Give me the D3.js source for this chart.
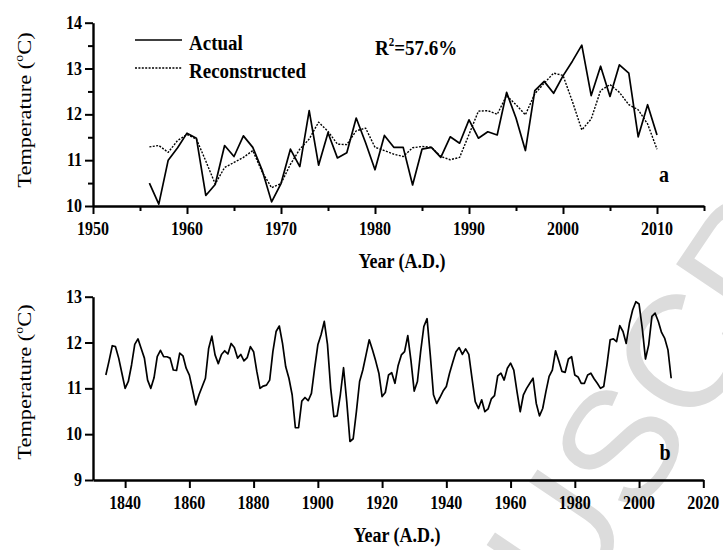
<!DOCTYPE html>
<html>
<head>
<meta charset="utf-8">
<script src="https://cdn.jsdelivr.net/npm/d3@7"></script>
<style>
  body { margin: 0; background: #fff; }
  svg { display: block; }
</style>
</head>
<body>
<svg id="chart" width="723" height="550"></svg>
<script>
// panel a: actual vs reconstructed, one value per year from 1956
const actualStart = 1956;
const actual = [10.50, 10.04, 11.00, 11.27, 11.59, 11.48, 10.23, 10.47, 11.32, 11.08,
  11.53, 11.28, 10.78, 10.09, 10.49, 11.24, 10.86, 12.08, 10.89, 11.60,
  11.05, 11.16, 11.92, 11.38, 10.79, 11.54, 11.28, 11.28, 10.46, 11.24,
  11.28, 11.06, 11.51, 11.37, 11.88, 11.48, 11.62, 11.55, 12.48, 11.92,
  11.21, 12.52, 12.72, 12.46, 12.84, 13.16, 13.51, 12.41, 13.05, 12.39,
  13.08, 12.90, 11.51, 12.21, 11.55];
const reconstructed = [11.29, 11.32, 11.17, 11.43, 11.56, 11.46, 10.98, 10.48, 10.84, 10.95,
  11.06, 11.21, 10.74, 10.40, 10.49, 10.91, 11.24, 11.46, 11.83, 11.63,
  11.35, 11.34, 11.64, 11.70, 11.28, 11.21, 11.13, 11.08, 11.27, 11.30,
  11.28, 11.08, 11.01, 11.06, 11.56, 12.07, 12.08, 12.00, 12.41, 12.21,
  11.99, 12.45, 12.68, 12.90, 12.85, 12.28, 11.66, 11.90, 12.52, 12.65,
  12.48, 12.21, 12.10, 11.79, 11.24];

// panel b: full reconstruction from 1834
const seriesStart = 1834;
const series = [11.29, 11.60, 11.93, 11.91, 11.66, 11.33,
  11.00, 11.15, 11.51, 11.96, 12.08, 11.87, 11.66, 11.18, 11.00, 11.23,
  11.69, 11.83, 11.69, 11.69, 11.66, 11.40, 11.39, 11.77, 11.71, 11.44,
  11.29, 10.97, 10.64, 10.86, 11.04, 11.22, 11.87, 12.14, 11.73, 11.54,
  11.74, 11.82, 11.75, 11.98, 11.89, 11.66, 11.74, 11.60, 11.67, 11.91,
  11.80, 11.37, 11.00, 11.05, 11.07, 11.18, 11.80, 12.24, 12.36, 11.98,
  11.47, 11.22, 10.86, 10.14, 10.14, 10.72, 10.80, 10.73, 10.89, 11.44,
  11.95, 12.17, 12.46, 11.96, 11.00, 10.38, 10.40, 10.86, 11.45, 10.71,
  9.84, 9.90, 10.49, 11.15, 11.40, 11.73, 12.06, 11.84, 11.60, 11.33,
  10.82, 10.91, 11.29, 11.34, 11.11, 11.50, 11.73, 11.80, 12.15, 11.60,
  10.94, 11.15, 11.80, 12.35, 12.52, 11.73, 10.86, 10.67, 10.80, 10.94,
  11.04, 11.33, 11.57, 11.80, 11.89, 11.74, 11.86, 11.74, 11.22, 10.71,
  10.56, 10.75, 10.49, 10.55, 10.77, 10.84, 11.27, 11.33, 11.18, 11.44,
  11.55, 11.40, 10.93, 10.49, 10.86, 11.00, 11.11, 11.22, 10.67, 10.40,
  10.56, 10.93, 11.26, 11.40, 11.82, 11.60, 11.37, 11.35, 11.64, 11.69,
  11.29, 11.25, 11.11, 11.11, 11.29, 11.33, 11.21, 11.11, 11.00, 11.04,
  11.51, 12.06, 12.08, 12.02, 12.37, 12.24, 11.98, 12.42, 12.71, 12.89,
  12.84, 12.31, 11.64, 11.95, 12.57, 12.64, 12.46, 12.22, 12.09, 11.84,
  11.22];

const xTicksA = [1950, 1960, 1970, 1980, 1990, 2000, 2010];
const xMinorA = [1955, 1965, 1975, 1985, 1995, 2005, 2015];
const yTicksA = [10, 11, 12, 13, 14];
const yMinorA = [10.5, 11.5, 12.5, 13.5];
const xTicksB = [1840, 1860, 1880, 1900, 1920, 1940, 1960, 1980, 2000, 2020];
const yTicksB = [9, 10, 11, 12, 13];

const serif = '"Liberation Serif", "Times New Roman", serif';
const stretch = 1.15; // the source figure is squashed taller than it is wide

const svg = d3.select('#chart');

// faint journal watermark behind everything
svg.append('text')
  .text('MANUSCRIPT')
  .attr('transform', 'translate(622,442) rotate(-56)')
  .attr('text-anchor', 'middle')
  .attr('dominant-baseline', 'central')
  .style('font-family', '"Liberation Sans", Arial, sans-serif')
  .style('font-size', '160px')
  .attr('fill', '#dcdcdc');

function label(g, x, y, anchor, size, weight) {
  return g.append('text')
    .attr('transform', `translate(${x},${y}) scale(1,${stretch})`)
    .attr('text-anchor', anchor)
    .style('font-family', serif)
    .style('font-size', size + 'px')
    .style('font-weight', weight)
    .attr('fill', '#000');
}

function styleAxis(g) {
  g.select('.domain').attr('stroke-width', 2.4);
  g.selectAll('.tick line').attr('stroke-width', 2);
}

function drawPanel(opts) {
  const g = svg.append('g');
  const x = d3.scaleLinear().domain(opts.xDomain).range(opts.xRange);
  const y = d3.scaleLinear().domain(opts.yDomain).range(opts.yRange);
  const bottom = opts.yRange[0];
  const left = opts.xRange[0];

  if (opts.xMinor) {
    g.append('g').attr('transform', `translate(0,${bottom})`)
      .call(d3.axisBottom(x).tickValues(opts.xMinor).tickSize(5).tickFormat(''))
      .call((a) => a.select('.domain').remove())
      .call(styleAxis);
  }
  if (opts.yMinor) {
    g.append('g').attr('transform', `translate(${left},0)`)
      .call(d3.axisLeft(y).tickValues(opts.yMinor).tickSize(5).tickFormat(''))
      .call((a) => a.select('.domain').remove())
      .call(styleAxis);
  }
  g.append('g').attr('transform', `translate(0,${bottom})`)
    .call(d3.axisBottom(x).tickValues(opts.xTicks).tickSize(8).tickSizeOuter(0).tickFormat(''))
    .call(styleAxis);
  g.append('g').attr('transform', `translate(${left},0)`)
    .call(d3.axisLeft(y).tickValues(opts.yTicks).tickSize(8).tickSizeOuter(0).tickFormat(''))
    .call(styleAxis);

  opts.xTicks.forEach((t) => label(g, x(t), bottom + 29, 'middle', 16, 'bold').text(t));
  opts.yTicks.forEach((t) => label(g, left - 11, y(t) + 6, 'end', 16, 'bold').text(t));

  label(g, opts.titleX, opts.titleY, 'middle', 18, 'bold').text('Year (A.D.)');

  const yl = g.append('text')
    .attr('transform', `translate(31,${opts.yLabelMid}) rotate(-90) scale(${stretch},1)`)
    .attr('text-anchor', 'middle')
    .style('font-family', serif)
    .style('font-size', '19.5px');
  yl.append('tspan').text('Temperature (');
  yl.append('tspan').text('o').attr('dy', -8).style('font-size', '12px');
  yl.append('tspan').text('C)').attr('dy', 8);

  label(g, opts.tagX, opts.tagY, 'middle', 20, 'bold').text(opts.tag);

  opts.lines.forEach((s) => {
    const line = d3.line()
      .x((d, i) => x(s.start + i))
      .y((d) => y(d));
    g.append('path')
      .datum(s.values)
      .attr('d', line)
      .attr('fill', 'none')
      .attr('stroke', '#000')
      .attr('stroke-width', s.width)
      .attr('stroke-linejoin', 'round')
      .attr('stroke-dasharray', s.dash || null);
  });
  return g;
}

const panelA = drawPanel({
  xDomain: [1950, 2015], xRange: [93, 704],
  yDomain: [10, 14], yRange: [206, 22.7],
  xTicks: xTicksA, xMinor: xMinorA, yTicks: yTicksA, yMinor: yMinorA,
  titleX: 402, titleY: 268, yLabelMid: 110,
  tag: 'a', tagX: 664, tagY: 182,
  lines: [
    { start: actualStart, values: reconstructed, width: 1.4, dash: '2,1.4' },
    { start: actualStart, values: actual, width: 1.7 },
  ],
});

drawPanel({
  xDomain: [1830, 2020], xRange: [93, 703.3],
  yDomain: [9, 13], yRange: [480, 296.7],
  xTicks: xTicksB, yTicks: yTicksB,
  titleX: 397, titleY: 542, yLabelMid: 382,
  tag: 'b', tagX: 665, tagY: 460,
  lines: [{ start: seriesStart, values: series, width: 1.7 }],
});

// legend and fit statistic for panel a
panelA.append('line').attr('x1', 135).attr('x2', 182).attr('y1', 40).attr('y2', 40)
  .attr('stroke', '#000').attr('stroke-width', 1.7);
panelA.append('line').attr('x1', 135).attr('x2', 182).attr('y1', 68).attr('y2', 68)
  .attr('stroke', '#000').attr('stroke-width', 1.4).attr('stroke-dasharray', '2,1.4');
label(panelA, 189, 50, 'start', 19, 'bold').text('Actual');
label(panelA, 189, 78, 'start', 19, 'bold').text('Reconstructed');

const r2 = label(panelA, 375, 55, 'start', 19, 'bold');
r2.append('tspan').text('R');
r2.append('tspan').text('2').attr('dy', -8).style('font-size', '11px');
r2.append('tspan').text('=57.6%').attr('dy', 8);
</script>
</body>
</html>
